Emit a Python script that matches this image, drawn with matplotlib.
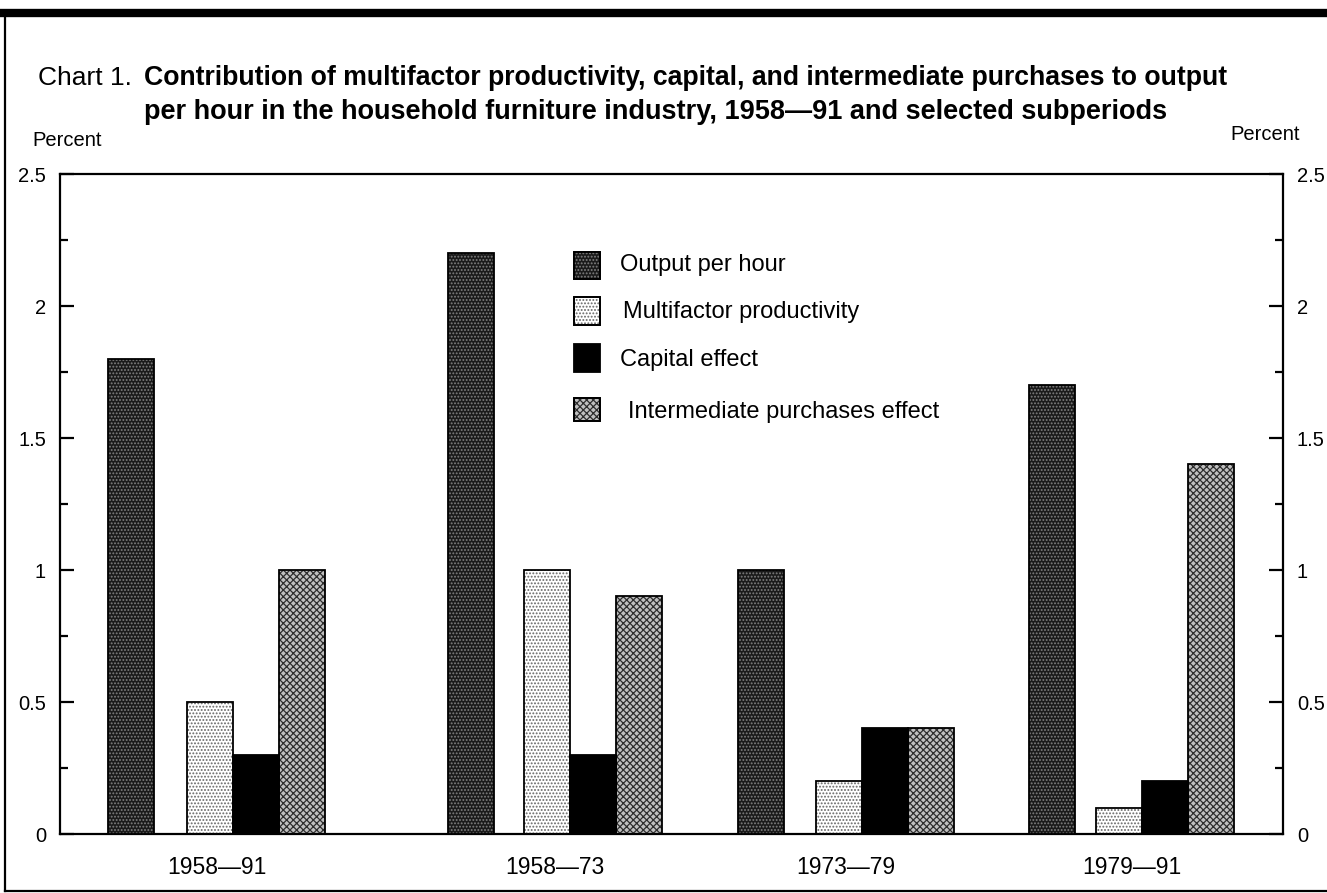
import matplotlib
matplotlib.use("Agg")
import matplotlib.pyplot as plt
from matplotlib.patches import Rectangle
from matplotlib.lines import Line2D
from matplotlib.ticker import MultipleLocator, FixedLocator

plt.rcParams['font.family'] = ['Liberation Sans', 'DejaVu Sans']

# ---------------- data ----------------
periods = ["1958\u201491", "1958\u201473", "1973\u201479", "1979\u201491"]
series_names = ["Output per hour", "Multifactor productivity", "Capital effect",
                "Intermediate purchases effect"]
output_per_hour = [1.8, 2.2, 1.0, 1.7]
multifactor = [0.5, 1.0, 0.2, 0.1]
capital = [0.3, 0.3, 0.4, 0.2]
intermediate = [1.0, 0.9, 0.4, 1.4]
y_ticks = [0, 0.5, 1, 1.5, 2, 2.5]
y_tick_labels = ["0", "0.5", "1", "1.5", "2", "2.5"]

title_prefix = "Chart 1."
title_line1 = "Contribution of multifactor productivity, capital, and intermediate purchases to output"
title_line2 = "per hour in the household furniture industry, 1958\u201491 and selected subperiods"

# ---------------- layout (pixels) ----------------
W, H = 1327, 893
fig = plt.figure(figsize=(W / 100, H / 100), dpi=100)

def fx(x):
    return x / W

def fy(y):
    return 1 - y / H

ax_l, ax_r, ax_t, ax_b = 60, 1283, 174, 834
ax = fig.add_axes([fx(ax_l), fy(ax_b), (ax_r - ax_l) / W, (ax_b - ax_t) / H])
ax.set_xlim(0, ax_r - ax_l)
ax.set_ylim(0, 2.5)

bw = 46
out_left = [108, 448, 738, 1029]
mfp_left = [187, 524, 816, 1096]

styles = [
    dict(face="#1a1a1a", hatch=".....", hcol="#808080"),
    dict(face="#ffffff", hatch=".....", hcol="#666666"),
    dict(face="#000000", hatch=None, hcol="#000000"),
    dict(face="#c0c0c0", hatch="xxxxx", hcol="#2e2e2e"),
]
plt.rcParams['hatch.linewidth'] = 0.9

def draw_bars(lefts, vals, st):
    xs = [l - ax_l + bw / 2 for l in lefts]
    ax.bar(xs, vals, width=bw, color=st["face"], linewidth=0, zorder=2)
    if st["hatch"]:
        ax.bar(xs, vals, width=bw, fill=False, hatch=st["hatch"],
               edgecolor=st["hcol"], linewidth=0, zorder=3)
    ax.bar(xs, vals, width=bw, fill=False, edgecolor="black", linewidth=1.3, zorder=4)

draw_bars(out_left, output_per_hour, styles[0])
draw_bars(mfp_left, multifactor, styles[1])
draw_bars([m + bw for m in mfp_left], capital, styles[2])
draw_bars([m + 2 * bw for m in mfp_left], intermediate, styles[3])

# axes styling
for s in ax.spines.values():
    s.set_linewidth(1.6)
ax.yaxis.set_major_locator(FixedLocator(y_ticks))
ax.yaxis.set_minor_locator(MultipleLocator(0.25))
ax.set_yticklabels(y_tick_labels)
ax.tick_params(axis="y", which="major", direction="in", length=10, width=1.6,
               left=True, right=True, labelleft=True, labelright=True,
               labelsize=14.5, pad=10)
ax.tick_params(axis="y", which="minor", direction="in", length=6, width=1.6,
               left=True, right=True)
ax.set_xticks([])

# period labels
for i, p in enumerate(periods):
    cx = (out_left[i] + mfp_left[i] + 3 * bw) / 2 - ax_l
    ax.text(cx, -0.125, p, ha="center", va="center", fontsize=16.5)

# legend (manual)
leg_rows = [(252, 279, 620), (297, 325, 623), (344, 372, 620), (398, 421, 628)]
leg_text_y = [265, 312, 360, 412]
for i, name in enumerate(series_names):
    y0, y1, tx = leg_rows[i]
    st = styles[i]
    x0, x1 = 574, 600
    box = ((fx(x0), fy(y1)), fx(x1) - fx(x0), fy(y0) - fy(y1))
    fig.add_artist(Rectangle(*box, transform=fig.transFigure, facecolor=st["face"],
                             edgecolor="black", linewidth=1.3))
    if st["hatch"]:
        fig.add_artist(Rectangle(*box, transform=fig.transFigure, fill=False,
                                 hatch=st["hatch"], edgecolor=st["hcol"], linewidth=0))
        fig.add_artist(Rectangle(*box, transform=fig.transFigure, fill=False,
                                 edgecolor="black", linewidth=1.3))
    fig.text(fx(tx), fy(leg_text_y[i]), name, ha="left", va="center", fontsize=17)

# titles
fig.text(fx(38), fy(78), title_prefix, ha="left", va="center", fontsize=19)
t1 = fig.text(fx(144), fy(78), title_line1, ha="left", va="center", fontsize=16,
              fontweight="bold")
t2 = fig.text(fx(144), fy(112), title_line2, ha="left", va="center", fontsize=16,
              fontweight="bold")
fig.canvas.draw()
r = fig.canvas.get_renderer()
s1 = (1225 - 144) / t1.get_window_extent(r).width
s2 = (1215 - 144) / t2.get_window_extent(r).width
t1.set_fontsize(16 * s1)
t2.set_fontsize(16 * min(s2, s1 * 1.02))

fig.text(fx(32), fy(140), "Percent", ha="left", va="center", fontsize=14.5)
fig.text(fx(1300), fy(134), "Percent", ha="right", va="center", fontsize=14.5)

# frame
fig.add_artist(Line2D([fx(0), fx(W)], [fy(13), fy(13)], transform=fig.transFigure,
                      color="black", linewidth=6))
fig.add_artist(Line2D([fx(5), fx(5)], [fy(13), fy(891)], transform=fig.transFigure,
                      color="black", linewidth=1.6))
fig.add_artist(Line2D([fx(5), fx(W)], [fy(891), fy(891)], transform=fig.transFigure,
                      color="black", linewidth=1.6))

fig.savefig("out.png", dpi=100)
